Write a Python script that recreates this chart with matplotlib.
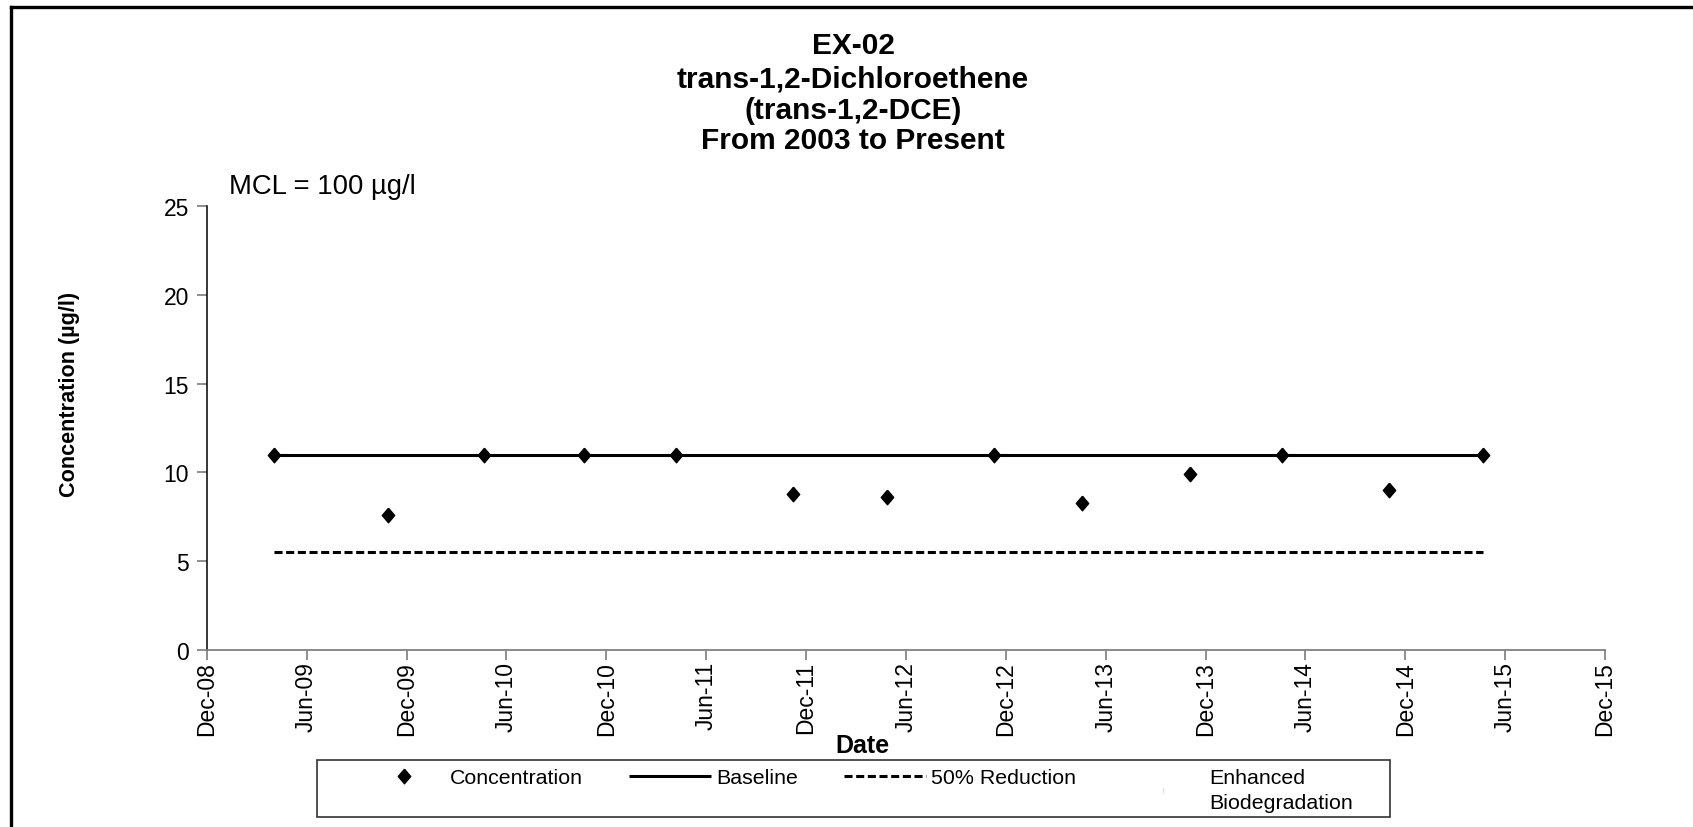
import datetime as dt

import matplotlib
matplotlib.use("Agg")
import matplotlib.pyplot as plt
import matplotlib.dates as mdates
from matplotlib.lines import Line2D
from matplotlib.patches import Rectangle

plt.rcParams["font.family"] = ["Liberation Sans", "DejaVu Sans"]
plt.rcParams["lines.scale_dashes"] = False

# ---- data -------------------------------------------------------------
sample_dates = [
    "2009-04-02", "2009-10-28", "2010-04-22", "2010-10-21", "2011-04-08",
    "2011-11-07", "2012-04-27", "2012-11-09", "2013-04-19", "2013-11-02",
    "2014-04-19", "2014-11-01", "2015-04-22",
]
concentration = [11, 7.6, 11, 11, 11, 8.8, 8.6, 11, 8.3, 9.9, 11, 9.0, 11]
baseline_value = 11.0
reduction_value = 5.5

title_lines = ["EX-02", "trans-1,2-Dichloroethene", "(trans-1,2-DCE)",
               "From 2003 to Present"]
mcl_text = "MCL = 100 µg/l"
y_ticks = [0, 5, 10, 15, 20, 25]
x_start, x_end = "2008-12-01", "2015-12-01"

legend_labels = ["Concentration", "Baseline", "50% Reduction",
                 "Enhanced\nBiodegradation"]

# ---- figure -----------------------------------------------------------
W, H = 1693, 828
fig = plt.figure(figsize=(W / 100, H / 100), dpi=100)
fig.patch.set_facecolor("white")

ax = fig.add_axes([207 / W, 1 - 651 / H, (1605 - 207) / W, (651 - 207) / H])

dates = [dt.datetime.strptime(d, "%Y-%m-%d") for d in sample_dates]
span = [dates[0], dates[-1]]

diamond = [(0, 1), (0.85, 0), (0, -1), (-0.85, 0), (0, 1)]

ax.plot(span, [baseline_value] * 2, color="black", lw=2.2, solid_capstyle="butt",
        zorder=2)
ax.plot(span, [reduction_value] * 2, color="black", lw=2.2,
        dashes=(5.8, 2.6), zorder=2)
ax.plot(dates, concentration, ls="none", marker=diamond, ms=10.5,
        color="black", zorder=3)

ax.set_xlim(dt.datetime.strptime(x_start, "%Y-%m-%d"),
            dt.datetime.strptime(x_end, "%Y-%m-%d"))
ax.set_ylim(0, 25)
ax.set_yticks(y_ticks)
ax.xaxis.set_major_locator(mdates.MonthLocator(bymonth=[6, 12], bymonthday=1))
ax.xaxis.set_major_formatter(mdates.DateFormatter("%b-%y"))
plt.setp(ax.get_xticklabels(), rotation=90, ha="center", va="top")

for side in ("top", "right"):
    ax.spines[side].set_visible(False)
ax.spines["left"].set_color("black")
ax.spines["left"].set_linewidth(1.1)
ax.spines["bottom"].set_color("#808080")
ax.spines["bottom"].set_linewidth(1.3)
ax.tick_params(axis="both", direction="out", length=7, width=1.1,
               color="#707070", labelsize=16.5, labelcolor="black")
ax.tick_params(axis="y", pad=6)
ax.tick_params(axis="x", pad=1)

ax.set_ylabel("Concentration (µg/l)", fontsize=15.6, fontweight="bold")
ax.yaxis.set_label_coords((70 - 207) / (1605 - 207), (651 - 394) / (651 - 207))
ax.set_xlabel("Date", fontsize=18, fontweight="bold")
ax.xaxis.set_label_coords((862 - 207) / (1605 - 207), -(746 - 651) / (651 - 207))
ax.xaxis.label.set_va("center")
ax.yaxis.label.set_va("center")

# ---- titles and notes ---------------------------------------------------
title_y = [46, 80, 111, 141]
for line, ty in zip(title_lines, title_y):
    fig.text(853 / W, 1 - ty / H, line, ha="center", va="center",
             fontsize=21.5, fontweight="bold")
fig.text(229 / W, 1 - 187 / H, mcl_text, ha="left", va="center", fontsize=19.8)

# ---- legend -------------------------------------------------------------
handles = [
    Line2D([], [], ls="none", marker=diamond, ms=10.5, color="black"),
    Line2D([], [], color="black", lw=2.2, solid_capstyle="butt"),
    Line2D([], [], color="black", lw=2.2, dashes=(5.8, 2.6)),
    Line2D([], [], ls="none", marker="|", ms=5, color="#e6e6e6"),
]
leg = fig.legend(handles, legend_labels, loc="upper left",
                 bbox_to_anchor=(363 / W, 1 - 769 / H, (1353 - 363) / W, 0),
                 bbox_transform=fig.transFigure, mode="expand", ncol=4,
                 frameon=False, borderpad=0, borderaxespad=0,
                 fontsize=15.4, handlelength=3.83, handletextpad=0.23,
                 labelspacing=0.2)
leg.get_texts()[3].set_linespacing(1.4)
leg._legend_handle_box.align = "top"
fig.add_artist(Rectangle((317 / W, 1 - 818 / H), (1390 - 317) / W, 57 / H,
                         transform=fig.transFigure, fill=False,
                         ec="#333333", lw=1.2))

# ---- outer frame (top and left edges) -----------------------------------
fig.add_artist(Line2D([10.5 / W, 1], [1 - 8 / H, 1 - 8 / H],
                      transform=fig.transFigure, color="black", lw=2.4))
fig.add_artist(Line2D([10.5 / W, 10.5 / W], [0, 1 - 8 / H],
                      transform=fig.transFigure, color="black", lw=2.4))

fig.savefig("out.png", dpi=100, facecolor="white")
